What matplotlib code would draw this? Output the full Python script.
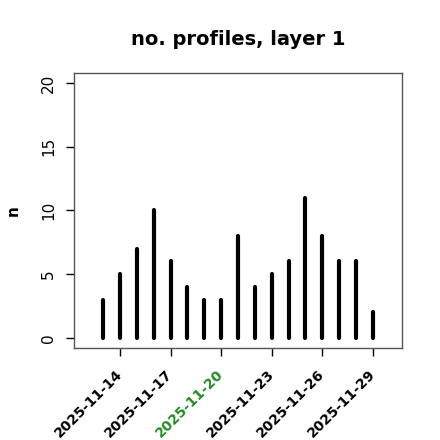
import numpy as np
import pandas as pd
import matplotlib
matplotlib.use('Agg')
import matplotlib.pyplot as plt

dates = pd.date_range('2025-11-13', '2025-11-29', freq='D')
counts = [3, 5, 7, 10, 6, 4, 3, 3, 8, 4, 5, 6, 11, 8, 6, 6, 2]
tick_dates = pd.to_datetime(['2025-11-14', '2025-11-17', '2025-11-20',
                             '2025-11-23', '2025-11-26', '2025-11-29'])
highlight = '2025-11-20'

fig = plt.figure(figsize=(4.4, 4.4), dpi=100)
ax = fig.add_axes([74 / 440, 92 / 440, 328 / 440, 275 / 440])

ax.vlines(dates, 0, counts, colors='black', linewidth=3.0, capstyle='round')

# R-style 4% padding around the date range
lo = pd.Timestamp('2025-11-12')
hi = pd.Timestamp('2025-11-30')
pad = (hi - lo) * 0.04
ax.set_xlim(lo - pad, hi + pad)
ax.set_ylim(-0.8, 20.8)

ax.set_yticks([0, 5, 10, 15, 20])
ax.set_yticklabels(['0', '5', '10', '15', '20'], rotation=90, va='center', fontsize=11)
ax.set_xticks(tick_dates)
labels = ax.set_xticklabels([d.strftime('%Y-%m-%d') for d in tick_dates],
                            rotation=45, ha='right', va='center',
                            rotation_mode='anchor',
                            fontsize=10, fontweight='bold')
for lab in labels:
    if lab.get_text() == highlight:
        lab.set_color('#228B22')

ax.tick_params(axis='both', length=6, width=1, color='black')
ax.tick_params(axis='x', pad=11)
ax.tick_params(axis='y', pad=7)
for s in ax.spines.values():
    s.set_color('#555555')
    s.set_linewidth(1)

ax.set_ylabel('n', fontweight='bold', fontsize=11)
ax.yaxis.set_label_coords(-0.162, 0.5)
ax.set_title('no. profiles, layer 1', fontweight='bold', fontsize=14, pad=20)

fig.savefig('out.png', dpi=100)
